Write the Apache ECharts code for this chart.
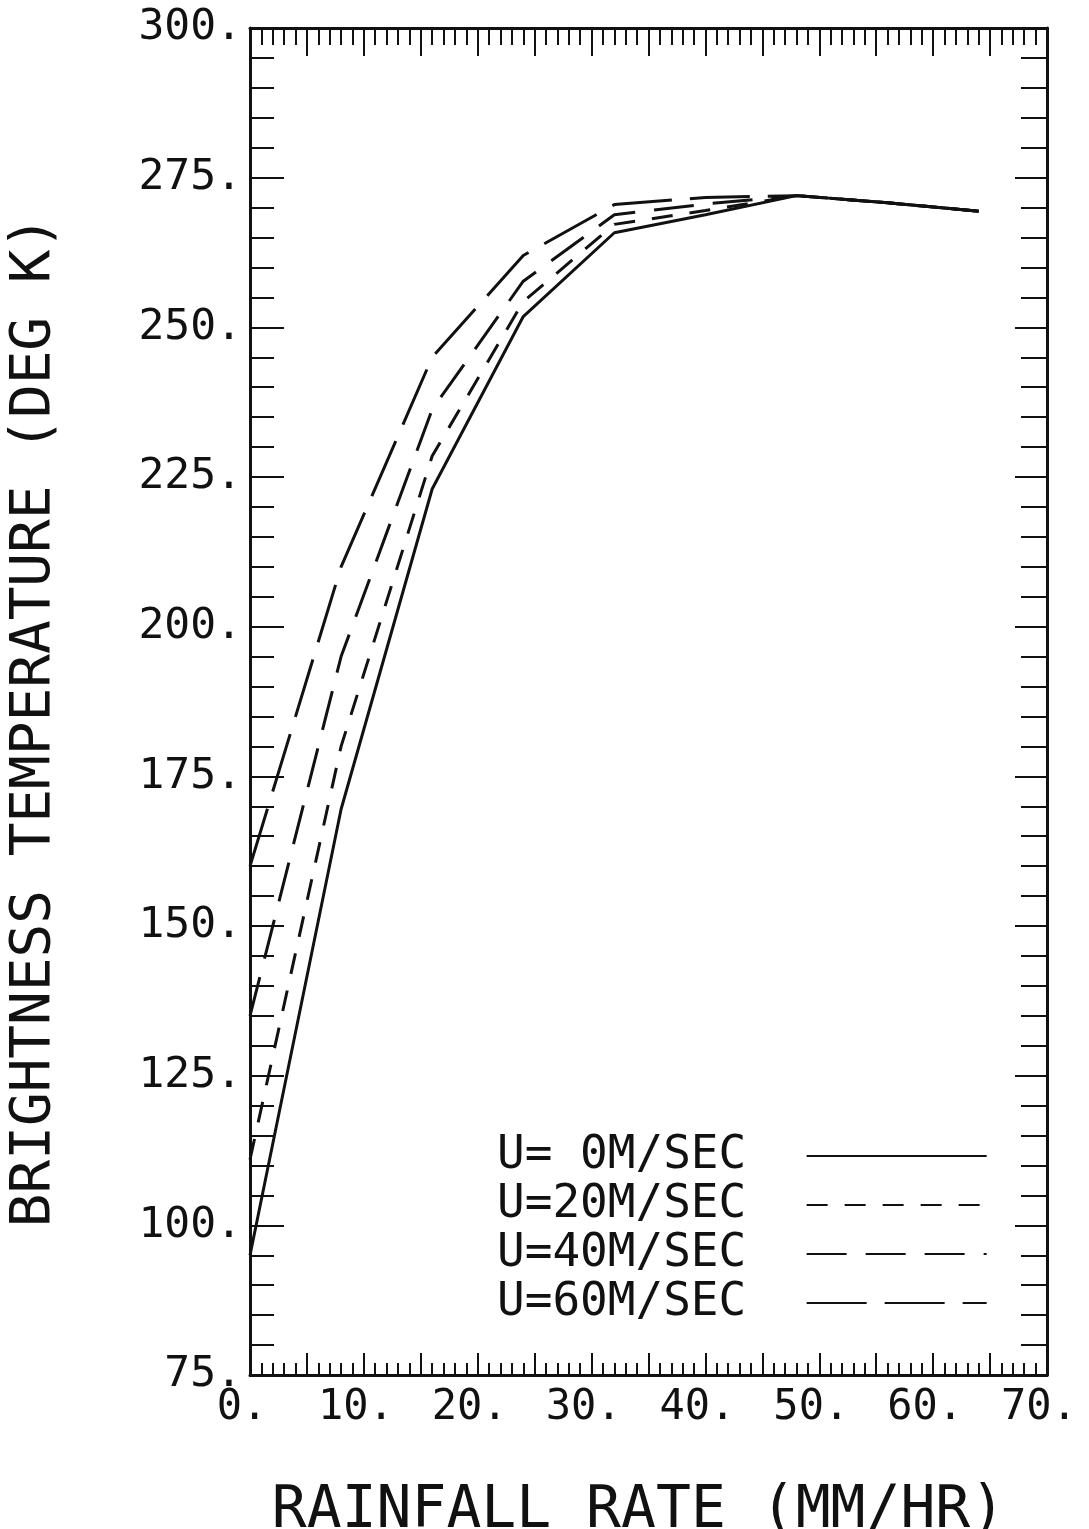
<!DOCTYPE html>
<html>
<head>
<meta charset="utf-8">
<script src="https://cdn.jsdelivr.net/npm/echarts@6/dist/echarts.min.js"></script>
<style>
  html, body { margin: 0; padding: 0; background: #fff; }
  #chart { width: 1089px; height: 1529px; }
</style>
</head>
<body>
<div id="chart"></div>
<script>
// rainfall rate (mm/hr) sample points
const rates = [0, 8, 16, 24, 32, 40, 48, 56, 64];
// brightness temperature (deg K) per wind speed
const tbU0 = [95, 169.5, 223, 251.8, 265.8, 268.8, 272, 270.8, 269.4];
const tbU20 = [111, 180, 228.5, 254.3, 267.2, 269.5, 272, 270.8, 269.4];
const tbU40 = [135, 195, 236.3, 257.7, 268.8, 270.6, 272, 270.8, 269.4];
const tbU60 = [160, 210, 245, 262, 270.5, 271.7, 272, 270.8, 269.4];
const seriesNames = ['U= 0M/SEC', 'U=20M/SEC', 'U=40M/SEC', 'U=60M/SEC'];

const ink = '#111';
const mono = 'DejaVu Sans Mono';

const pairs = vals => rates.map((r, i) => [r, vals[i]]);

const mkLine = (name, vals, dash) => ({
  name: name,
  type: 'line',
  data: pairs(vals),
  symbol: 'none',
  silent: true,
  lineStyle: { color: ink, width: 3, type: dash, cap: 'butt' },
  itemStyle: { color: ink }
});

const frameLine = { onZero: false, lineStyle: { color: ink, width: 3 } };
const tickStyle = { color: ink, width: 2 };

const chart = echarts.init(document.getElementById('chart'));
const option = {
  backgroundColor: '#fff',
  animation: false,
  grid: { left: 250, right: 42, top: 28, bottom: 154, outerBoundsMode: 'none' },
  legend: {
    orient: 'vertical',
    left: 497,
    top: 1133,
    align: 'right',
    selectedMode: false,
    itemWidth: 180,
    itemHeight: 20,
    itemGap: 3,
    padding: 0,
    itemStyle: { opacity: 0 },
    formatter: name => name + '  ',
    textStyle: { fontFamily: mono, fontSize: 46, color: ink },
    data: seriesNames
  },
  xAxis: [
    {
      type: 'value',
      min: 0,
      max: 70,
      interval: 5,
      position: 'bottom',
      name: 'RAINFALL RATE (MM/HR)',
      nameLocation: 'middle',
      nameGap: 108,
      nameTextStyle: { fontFamily: mono, fontSize: 58, color: ink, padding: [0, 20, 0, 0] },
      axisLine: frameLine,
      axisTick: { inside: true, length: 22, lineStyle: tickStyle },
      minorTick: { show: true, splitNumber: 5, length: 12, lineStyle: tickStyle },
      splitLine: { show: false },
      axisLabel: {
        fontFamily: mono,
        fontSize: 42,
        color: ink,
        margin: 12,
        padding: [0, 16, 0, 0],
        formatter: v => (v % 10 === 0 ? v + '.' : '')
      }
    },
    {
      type: 'value',
      min: 0,
      max: 70,
      interval: 5,
      position: 'top',
      axisLine: frameLine,
      axisTick: { inside: true, length: 28, lineStyle: tickStyle },
      minorTick: { show: true, splitNumber: 5, length: 17, lineStyle: tickStyle },
      splitLine: { show: false },
      axisLabel: { show: false }
    }
  ],
  yAxis: [
    {
      type: 'value',
      min: 75,
      max: 300,
      interval: 25,
      position: 'left',
      name: 'BRIGHTNESS TEMPERATURE (DEG K)',
      nameLocation: 'middle',
      nameRotate: 90,
      nameGap: 188,
      nameTextStyle: { fontFamily: mono, fontSize: 56, color: ink, padding: [0, 40, 0, 0] },
      axisLine: frameLine,
      axisTick: { inside: true, length: 34, lineStyle: tickStyle },
      minorTick: { show: true, splitNumber: 5, length: 24, lineStyle: tickStyle },
      splitLine: { show: false },
      axisLabel: {
        fontFamily: mono,
        fontSize: 43,
        color: ink,
        margin: 8,
        formatter: v => v + '.'
      }
    },
    {
      type: 'value',
      min: 75,
      max: 300,
      interval: 25,
      position: 'right',
      axisLine: frameLine,
      axisTick: { inside: true, length: 32, lineStyle: tickStyle },
      minorTick: { show: true, splitNumber: 5, length: 26, lineStyle: tickStyle },
      splitLine: { show: false },
      axisLabel: { show: false }
    }
  ],
  series: [
    mkLine(seriesNames[0], tbU0, 'solid'),
    mkLine(seriesNames[1], tbU20, [21, 17]),
    mkLine(seriesNames[2], tbU40, [40, 19]),
    mkLine(seriesNames[3], tbU60, [60, 18])
  ]
};
chart.setOption(option);
</script>
</body>
</html>
